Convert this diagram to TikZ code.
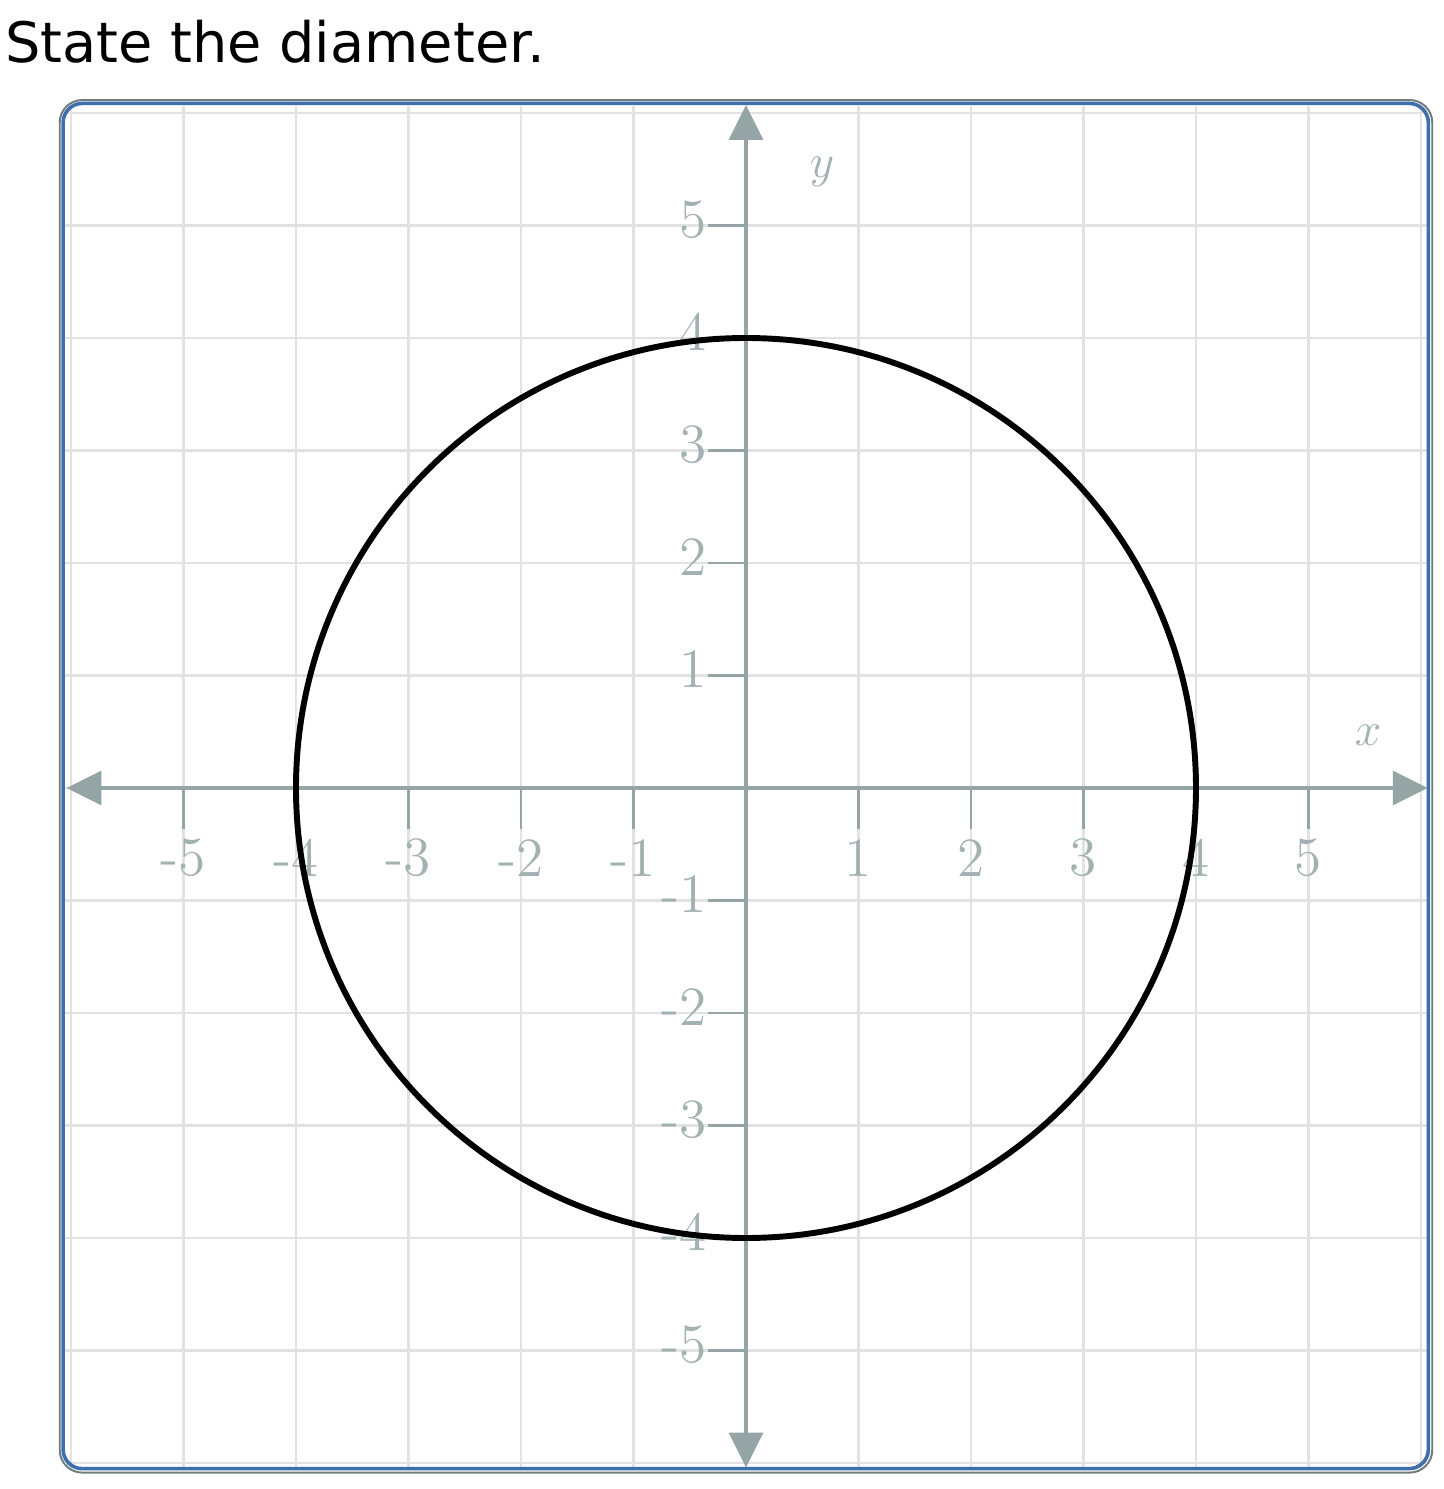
\documentclass[tikz,border=0pt]{standalone}
\usepackage{fontspec}
\newfontfamily\titlefont{DejaVu Sans}
\usepackage{xcolor}
\usetikzlibrary{arrows.meta}
\definecolor{axisgrey}{HTML}{95A5A6}
\definecolor{labelgrey}{HTML}{A3B1B2}
\definecolor{gridgrey}{HTML}{E2E2E2}
\definecolor{framegrey}{HTML}{6F7B7C}
\definecolor{frameblue}{HTML}{3E6EAC}

\begin{document}
\begin{tikzpicture}[>={Triangle[width=0.3cm,length=0.31cm]},
    ticklabel/.style={text=labelgrey, inner sep=0pt, font=\fontsize{14}{16}\selectfont},
    axisname/.style={text=labelgrey, inner sep=0pt, font=\fontsize{13}{15}\selectfont}]
    \useasboundingbox (-6.6311,-6.2311) rectangle (6.2044,7.0044);

    % Đề bài
    \node[anchor=base west, inner sep=0pt, font=\titlefont\fontsize{14.1}{16}\selectfont]
        (title) at (-6.593,6.453) {State the diameter.};

    % Khung và lưới
    \draw[framegrey, line width=0.5pt, fill=white, rounded corners=0.2cm]
        (-6.1,-6.085) rectangle (6.1,6.115);
    \draw[gridgrey, line width=0.75pt] (-6.05,-6.04) grid (6.05,6.06);

    % Hệ trục tọa độ
    \draw[<->, axisgrey, line width=1pt] (-6.04,0) -- (6.06,0);
    \draw[<->, axisgrey, line width=1pt] (0,-6.04) -- (0,6.07);
    \node[axisname] (xname) at (5.53,0.47) {$x$};
    \node[axisname] (yname) at (0.676,5.476) {$y$};

    % Đánh dấu các mốc
    \foreach \x [count=\i] in {-5,-4,-3,-2,-1,1,2,3,4,5} {
        \draw[axisgrey, line width=0.6pt] (\x,0) -- (\x,-0.36);
        \node[ticklabel] (xlab\i) at (\x,-0.622) {\x};
    }
    \foreach \y [count=\i] in {-5,-4,-3,-2,-1,1,2,3,4,5} {
        \draw[axisgrey, line width=0.6pt] (0,\y) -- (-0.34,\y);
        \node[ticklabel, anchor=east] (ylab\i) at (-0.345,\y+0.055) {\y};
    }

    % Đường tròn tâm O bán kính 4
    \draw[black, line width=1.5pt] (0,0) circle (4);

    \draw[frameblue, line width=0.9pt, rounded corners=0.17cm]
        (-6.07,-6.05) rectangle (6.065,6.085);
\end{tikzpicture}
\end{document}
